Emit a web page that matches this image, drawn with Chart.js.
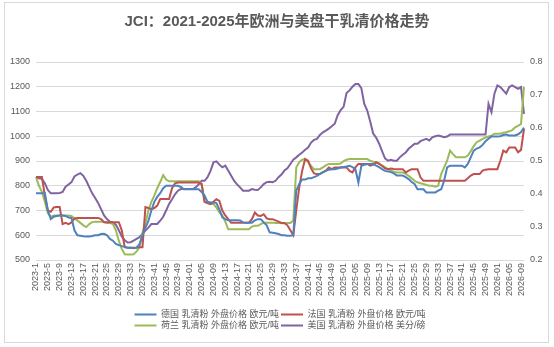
<!DOCTYPE html>
<html>
<head>
<meta charset="utf-8">
<script src="https://cdn.jsdelivr.net/npm/chart.js@4/dist/chart.umd.min.js"></script>
<style>
html,body{margin:0;padding:0;background:#fff;}
#wrap{position:relative;width:554px;height:347px;}
#frame{position:absolute;left:4px;top:2px;width:545px;height:341px;border:1px solid #d9d9d9;box-sizing:border-box;pointer-events:none;}
canvas{position:absolute;left:0;top:0;}
</style>
</head>
<body>
<div id="wrap"><canvas id="c" width="554" height="347"></canvas><div id="frame"></div></div>
<script>
const TITLE = 'JCI：2021-2025年欧洲与美盘干乳清价格走势';
const seriesNames = ['德国 乳清粉 外盘价格 欧元/吨', '法国 乳清粉 外盘价格 欧元/吨', '荷兰 乳清粉 外盘价格 欧元/吨', '美国 乳清粉 外盘价格 美分/磅'];
const years = [2023, 2024, 2025, 2026];
const weeksInYear = [52, 52, 52, 10];
const leftTicks = [500, 1300, 100];
const rightTicks = [0.2, 0.8, 0.1];

// weekly category labels
const weekLabels = [];
years.forEach((y, k) => {
  for (let w = 1; w <= weeksInYear[k]; w++) {
    weekLabels.push(y === 2023 ? y + '-' + w : y + '-' + String(w).padStart(2, '0'));
  }
});

const germany = [
  770,770,770,770,700,665,675,678,680,680,
  678,672,670,620,600,598,596,595,595,597,
  600,600,605,606,600,585,578,565,560,556,
  553,550,550,548,550,564,600,630,658,700,
  735,755,770,790,800,800,800,800,800,795,
  786,786,786,786,786,786,775,760,735,732,
  732,730,705,672,665,661,661,661,661,660,
  652,651,651,651,660,665,665,652,640,612,
  610,608,605,600,600,598,598,600,780,807,
  825,825,830,830,835,840,848,854,860,865,
  867,867,870,874,876,878,881,875,867,813,
  881,885,888,888,888,881,875,867,860,858,
  855,850,841,841,841,835,827,815,807,786,
  786,786,773,773,773,773,780,786,820,874,
  881,881,881,881,881,874,888,915,942,950,
  955,965,980,990,999,999,999,1000,1005,1007,
  1003,1003,1003,1008,1017,1035
];
const france = [
  835,835,835,760,700,695,712,714,714,645,
  650,645,652,668,670,670,670,670,670,670,
  670,670,665,653,653,653,653,653,653,620,
  552,550,550,550,550,552,552,714,710,705,
  710,720,746,746,746,746,790,810,813,813,
  813,813,813,813,813,813,807,735,730,726,
  735,746,739,700,680,665,651,651,651,651,
  651,651,651,665,692,680,678,685,668,665,
  665,660,655,650,650,640,620,600,700,793,
  861,908,901,870,850,847,847,855,861,874,
  867,874,874,874,874,874,860,854,874,888,
  888,888,888,881,885,895,888,881,870,867,
  870,868,867,867,867,854,861,867,867,867,
  834,820,820,820,820,820,820,820,820,820,
  820,820,820,820,820,820,830,841,847,847,
  847,861,865,867,867,867,867,901,942,935,
  955,955,955,935,945,1030
];
const netherlands = [
  835,800,775,735,690,675,680,680,680,680,
  680,680,678,668,660,650,640,633,645,653,
  655,655,655,653,650,650,645,620,578,545,
  523,522,522,523,535,551,610,650,700,735,
  760,790,815,843,825,818,818,818,818,818,
  818,818,818,818,818,818,807,735,730,726,
  726,712,692,680,655,624,624,624,624,624,
  624,624,624,635,638,638,645,651,651,651,
  651,650,650,648,648,650,650,660,874,895,
  905,908,895,880,867,867,867,874,882,888,
  888,888,888,890,900,905,908,908,908,908,
  908,908,908,901,897,895,890,881,875,867,
  861,857,854,854,854,848,840,830,820,814,
  810,807,803,800,800,796,800,847,874,901,
  942,928,915,915,915,915,922,940,960,976,
  982,989,995,999,1002,1010,1010,1010,1014,1016,
  1020,1025,1036,1042,1050,1200
];
const usa = [
  0.448,0.448,0.446,0.433,0.412,0.402,0.402,0.402,0.403,0.406,
  0.422,0.429,0.436,0.453,0.459,0.463,0.455,0.440,0.421,0.402,
  0.388,0.373,0.354,0.335,0.324,0.316,0.313,0.307,0.290,0.271,
  0.260,0.253,0.254,0.259,0.264,0.269,0.279,0.289,0.298,0.309,
  0.309,0.309,0.319,0.331,0.350,0.370,0.384,0.399,0.410,0.415,
  0.415,0.415,0.415,0.415,0.420,0.429,0.440,0.440,0.451,0.470,
  0.496,0.499,0.489,0.481,0.486,0.471,0.455,0.440,0.429,0.420,
  0.410,0.410,0.410,0.415,0.413,0.412,0.420,0.430,0.436,0.437,
  0.436,0.440,0.451,0.459,0.471,0.478,0.491,0.504,0.511,0.519,
  0.526,0.534,0.541,0.556,0.564,0.567,0.579,0.587,0.592,0.598,
  0.605,0.613,0.639,0.654,0.664,0.706,0.714,0.725,0.733,0.733,
  0.721,0.673,0.653,0.620,0.583,0.571,0.553,0.530,0.508,0.501,
  0.504,0.501,0.501,0.511,0.519,0.526,0.537,0.545,0.552,0.552,
  0.560,0.564,0.567,0.562,0.572,0.575,0.577,0.575,0.572,0.574,
  0.580,0.580,0.580,0.580,0.580,0.580,0.580,0.580,0.580,0.580,
  0.580,0.580,0.580,0.673,0.648,0.704,0.729,0.724,0.714,0.704,
  0.724,0.729,0.724,0.719,0.724,0.643
];

const FONT = "'Liberation Sans', 'Noto Sans CJK SC', sans-serif";
const TXT = '#595959';
const colors = ['#4F81BD', '#C0504D', '#9BBB59', '#8064A2'];
const values = [germany, france, netherlands, usa];

const legendRows = {
  id: 'legendRows',
  afterLayout(chart) {
    const lg = chart.legend;
    if (!lg) return;
    const w = 300, cx = 280;
    lg.maxWidth = w;
    lg.fit();
    lg.left = cx - w / 2;
    lg.right = cx + w / 2;
    lg.width = w;
  }
};

new Chart(document.getElementById('c'), {
  type: 'line',
  data: {
    labels: weekLabels,
    datasets: values.map((d, k) => ({
      label: seriesNames[k],
      data: d,
      borderColor: colors[k],
      backgroundColor: colors[k],
      borderWidth: 2,
      pointRadius: 0,
      tension: 0,
      fill: false,
      yAxisID: k === 3 ? 'y1' : 'y'
    }))
  },
  options: {
    responsive: false,
    animation: false,
    layout: { padding: { left: 0, right: 0, top: 0, bottom: 7 } },
    plugins: {
      title: { display: true, text: TITLE, color: TXT, font: { size: 15, weight: 'bold', family: FONT }, padding: { top: 13, bottom: 31 } },
      legend: {
        position: 'bottom',
        labels: { usePointStyle: true, pointStyle: 'line', pointStyleWidth: 22, padding: 2, color: TXT, font: { size: 9, family: FONT } }
      },
      tooltip: { enabled: false }
    },
    scales: {
      x: {
        offset: false,
        grid: { display: false, drawTicks: false },
        border: { display: false },
        ticks: {
          autoSkip: false, maxRotation: 90, minRotation: 90, padding: 3, color: TXT,
          font: { size: 9, family: FONT },
          callback(v, i) { return i % 4 === 0 ? this.getLabelForValue(v) : ''; }
        },
        afterFit(s) { s.height = 48; }
      },
      y: {
        position: 'left', min: leftTicks[0], max: leftTicks[1],
        ticks: { stepSize: leftTicks[2], padding: 6, color: TXT, font: { size: 9, family: FONT }, callback: v => String(v) },
        grid: { color: '#d9d9d9', drawTicks: false },
        border: { display: false },
        afterFit(s) { s.width = 36; }
      },
      y1: {
        position: 'right', min: rightTicks[0], max: rightTicks[1],
        ticks: { stepSize: rightTicks[2], padding: 6, color: TXT, font: { size: 9, family: FONT }, callback: v => Number(v).toFixed(1) },
        grid: { display: false, drawTicks: false },
        border: { display: false },
        afterFit(s) { s.width = 30; }
      }
    }
  },
  plugins: [legendRows]
});
</script>
</body>
</html>
